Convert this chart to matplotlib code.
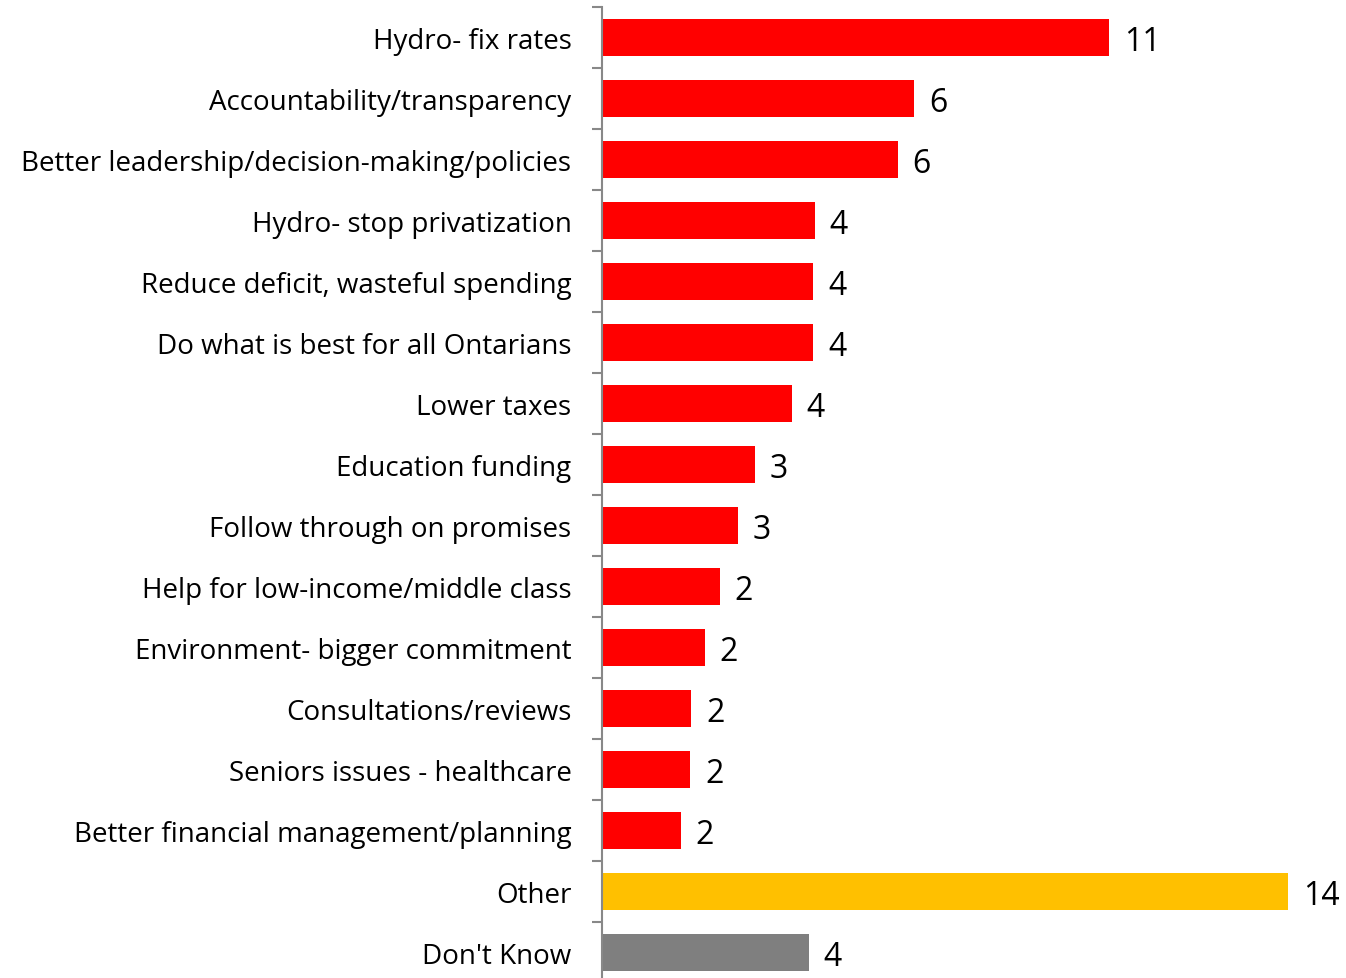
import numpy as np
import matplotlib.pyplot as plt

categories = [
    "Hydro- fix rates",
    "Accountability/transparency",
    "Better leadership/decision-making/policies",
    "Hydro- stop privatization",
    "Reduce deficit, wasteful spending",
    "Do what is best for all Ontarians",
    "Lower taxes",
    "Education funding",
    "Follow through on promises",
    "Help for low-income/middle class",
    "Environment- bigger commitment",
    "Consultations/reviews",
    "Seniors issues - healthcare",
    "Better financial management/planning",
    "Other",
    "Don't Know",
]
values = [10.35, 6.37, 6.04, 4.35, 4.31, 4.31, 3.88, 3.12, 2.78, 2.41, 2.10, 1.82, 1.80, 1.61, 14.0, 4.22]
labels = ["11", "6", "6", "4", "4", "4", "4", "3", "3", "2", "2", "2", "2", "2", "14", "4"]
colors = ["#FF0000"] * 14 + ["#FFC000", "#7F7F7F"]

plt.rcParams['font.family'] = ['Open Sans', 'DejaVu Sans']

fig = plt.figure(figsize=(13.46, 9.79), dpi=100)
ax = fig.add_axes([602 / 1346, 1 - 984 / 979, 1 - 602 / 1346, 976 / 979])

y = np.arange(len(categories))
ax.barh(y, values, height=0.62, color=colors)
for yi, v, lab in zip(y, values, labels):
    ax.text(v + 0.3, yi + 0.07, lab, va='center', ha='left', fontsize=23, color='black')

ax.set_xlim(0, 744 / 49)
ax.set_ylim(len(categories) - 0.5, -0.5)

ax.set_yticks(np.arange(len(categories) + 1) - 0.5, minor=False)
ax.set_yticklabels([])
ax.set_yticks(y, minor=True)
ax.set_yticklabels(categories, minor=True, fontsize=20)
ax.tick_params(axis='y', which='major', length=7.2, width=1.5, color='#888888')
ax.tick_params(axis='y', which='minor', length=0, pad=22)

ax.set_xticks([])
for s in ['top', 'right', 'bottom']:
    ax.spines[s].set_visible(False)
ax.spines['left'].set_color('#888888')
ax.spines['left'].set_linewidth(1.5)

fig.savefig("out.png", dpi=100)
